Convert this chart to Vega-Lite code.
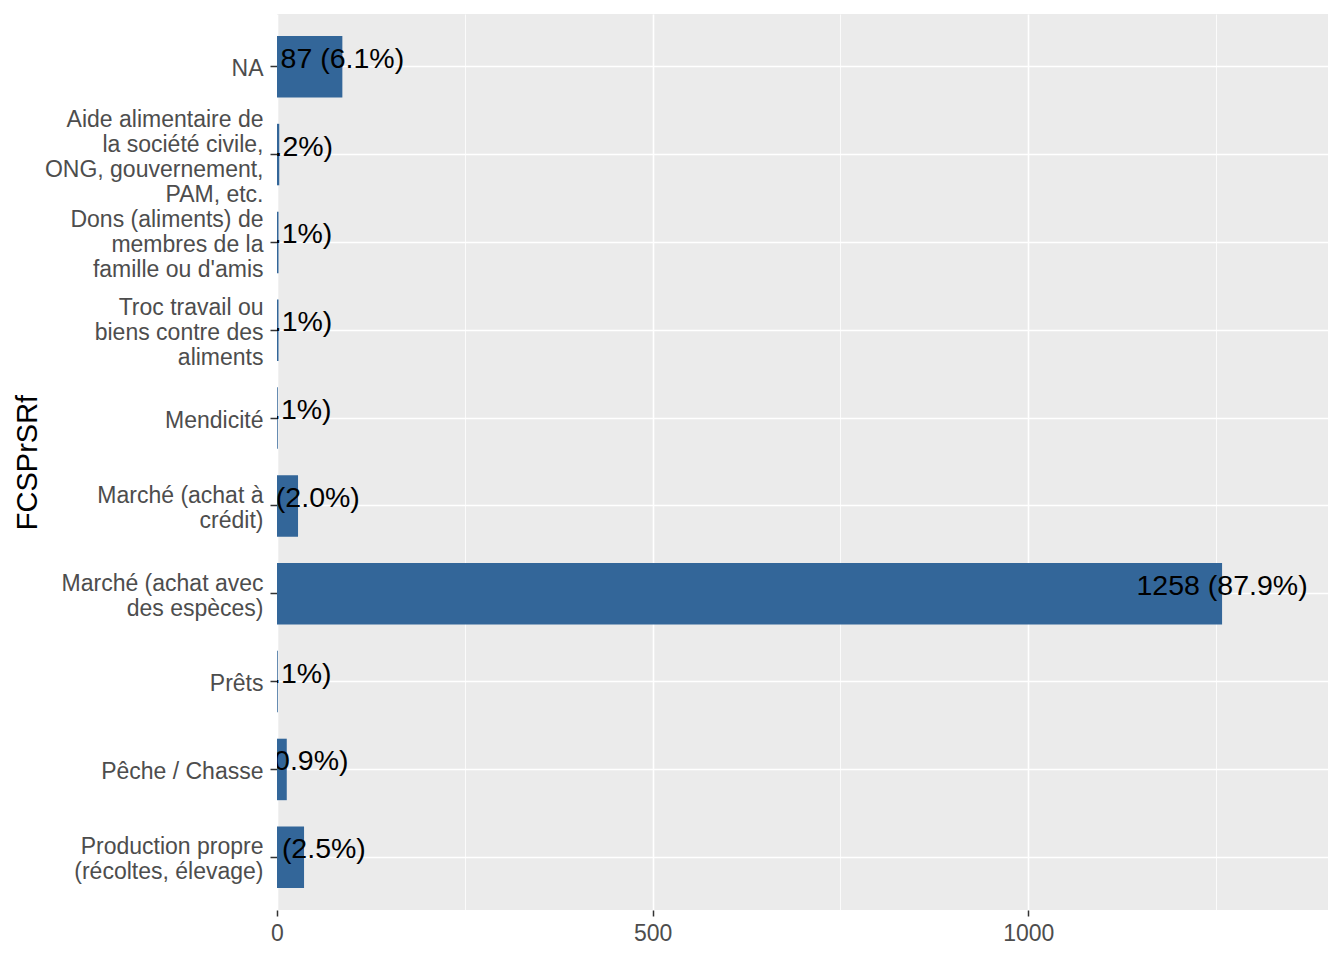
{
  "$schema": "https://vega.github.io/schema/vega-lite/v6.json",
  "autosize": "none",
  "width": 1051,
  "height": 896,
  "padding": {"left": 277, "top": 14, "right": 16, "bottom": 50},
  "background": "white",
  "config": {"view": {"fill": "#EBEBEB", "stroke": null}, "font": "Liberation Sans"},
  "data": {"values": [
    {"source": "NA", "n": 87, "label": "87 (6.1%)"},
    {"source": "Aide alimentaire de\nla société civile,\nONG, gouvernement,\nPAM, etc.", "n": 3, "label": "3 (0.2%)"},
    {"source": "Dons (aliments) de\nmembres de la\nfamille ou d'amis", "n": 2, "label": "2 (0.1%)"},
    {"source": "Troc travail ou\nbiens contre des\naliments", "n": 2, "label": "2 (0.1%)"},
    {"source": "Mendicité", "n": 1, "label": "1 (0.1%)"},
    {"source": "Marché (achat à\ncrédit)", "n": 28, "label": "28 (2.0%)"},
    {"source": "Marché (achat avec\ndes espèces)", "n": 1258, "label": "1258 (87.9%)"},
    {"source": "Prêts", "n": 1, "label": "1 (0.1%)"},
    {"source": "Pêche / Chasse", "n": 13, "label": "13 (0.9%)"},
    {"source": "Production propre\n(récoltes, élevage)", "n": 36, "label": "36 (2.5%)"}
  ]},
  "encoding": {
    "y": {
      "field": "source", "type": "nominal", "sort": null,
      "scale": {"paddingInner": 0.3, "paddingOuter": 0.25},
      "axis": {
        "title": "FCSPrSRf", "titleFontSize": 29, "titleColor": "#000000", "titleFontWeight": "normal", "titlePadding": 35,
        "labelExpr": "split(datum.label, '\\n')",
        "labelFontSize": 23, "labelColor": "#4D4D4D", "labelLineHeight": 25, "labelLimit": 400, "labelPadding": 7,
        "labelOffset": {"expr": "2.5 - (length(split(datum.value, '\\n')) - 1) * 12.5"},
        "grid": true, "gridColor": "#FFFFFF", "gridWidth": 1.5, "bandPosition": 0.5,
        "domain": false, "tickColor": "#333333", "tickSize": 7, "tickWidth": 1.5
      }
    },
    "x": {
      "field": "n", "type": "quantitative",
      "scale": {"domain": [0, 1399], "nice": false, "zero": true},
      "axis": {
        "title": null,
        "values": [0, 250, 500, 750, 1000, 1250],
        "format": "d",
        "labelExpr": "datum.value % 500 === 0 ? datum.label : ''",
        "labelFlush": false,
        "labelFontSize": 23, "labelColor": "#4D4D4D", "labelPadding": 6,
        "grid": true, "gridColor": "#FFFFFF",
        "gridWidth": {"condition": {"test": "datum.value % 500 === 0", "value": 1.6}, "value": 0.8},
        "tickOpacity": {"condition": {"test": "datum.value % 500 === 0", "value": 1}, "value": 0},
        "domain": false, "tickColor": "#333333", "tickSize": 6, "tickWidth": 1.5
      }
    }
  },
  "layer": [
    {"mark": {"type": "bar", "color": "#336699"}},
    {
      "mark": {"type": "text", "clip": true, "fontSize": 28.5, "color": "#000000", "align": "center", "baseline": "middle", "dy": -8},
      "encoding": {"text": {"field": "label"}}
    }
  ]
}
